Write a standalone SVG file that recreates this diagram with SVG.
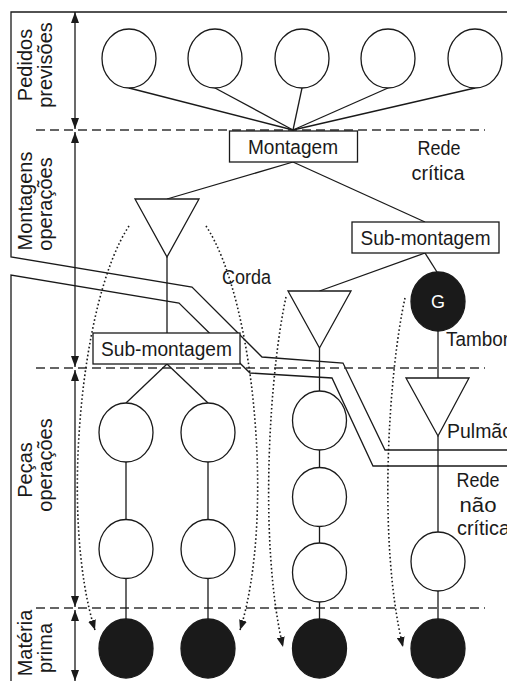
<svg xmlns="http://www.w3.org/2000/svg" width="507" height="681" viewBox="0 0 507 681">
<style>
.ln{stroke:#1a1a1a;stroke-width:1.3;fill:none}
.nd{fill:#fff;stroke:#1a1a1a;stroke-width:1.3}
.bk{fill:#1a1a1a;stroke:#1a1a1a;stroke-width:1.3}
.dash{stroke:#333;stroke-width:1.3;stroke-dasharray:9 5;fill:none}
.dot{stroke:#1a1a1a;stroke-width:1.6;stroke-dasharray:1.6 2.4;fill:none}
.ar{stroke:#1a1a1a;stroke-width:1.3;fill:none;marker-start:url(#ah);marker-end:url(#ah)}
text{font-family:"Liberation Sans",Arial,sans-serif;font-size:20.5px;fill:#1a1a1a}
.v{font-size:20px}
.c{text-anchor:middle}
</style>
<defs>
<marker id="ah" markerUnits="userSpaceOnUse" markerWidth="12" markerHeight="8" refX="11" refY="4" orient="auto-start-reverse" viewBox="0 0 12 8">
<path d="M0,0 L11,4 L0,8 z" fill="#1a1a1a"/>
</marker>
<marker id="dh" markerUnits="userSpaceOnUse" markerWidth="11" markerHeight="8" refX="10" refY="4" orient="auto" viewBox="0 0 11 8">
<path d="M0,0 L10,4 L0,8 z" fill="#1a1a1a"/>
</marker>
</defs>

<g id="regions">
<path class="ln" d="M507,12 H11 V257 L192,287 L262,357 L343,363 L385,450 H507"/>
<path class="ln" d="M11,681 V275 L179,303 L250,373 L332,378 L373,466 H507"/>
<line class="dash" x1="36" y1="130" x2="485" y2="130"/>
<line class="dash" x1="36" y1="368" x2="485" y2="368"/>
<line class="dash" x1="36" y1="608" x2="485" y2="608"/>
<line class="ar" x1="75" y1="12" x2="75" y2="129"/>
<line class="ar" x1="75" y1="132" x2="75" y2="367"/>
<line class="ar" x1="75" y1="370" x2="75" y2="607"/>
<line class="ar" x1="75" y1="610" x2="75" y2="681"/>
</g>

<g id="labels">
<text class="c v" transform="translate(32,65) rotate(-90)">Pedidos</text>
<text class="c v" transform="translate(52,65) rotate(-90)">previsões</text>
<text class="c v" transform="translate(32,201) rotate(-90)">Montagens</text>
<text class="c v" transform="translate(52,204) rotate(-90)">operações</text>
<text class="c v" transform="translate(32,470) rotate(-90)">Peças</text>
<text class="c v" transform="translate(52,465) rotate(-90)">operações</text>
<text class="c v" transform="translate(32,643) rotate(-90)">Matéria</text>
<text class="c v" transform="translate(52,648) rotate(-90)">prima</text>
<text class="c" x="439" y="155" textLength="43" lengthAdjust="spacingAndGlyphs">Rede</text>
<text class="c" x="438" y="180" textLength="53" lengthAdjust="spacingAndGlyphs">crítica</text>
<text x="222" y="284" textLength="49" lengthAdjust="spacingAndGlyphs">Corda</text>
<text x="446" y="346" textLength="63" lengthAdjust="spacingAndGlyphs">Tambor</text>
<text x="447" y="438" textLength="66" lengthAdjust="spacingAndGlyphs">Pulmão</text>
<text class="c" x="478" y="487" textLength="43" lengthAdjust="spacingAndGlyphs">Rede</text>
<text class="c" x="478" y="512" textLength="37" lengthAdjust="spacingAndGlyphs">não</text>
<text x="457" y="535" textLength="53" lengthAdjust="spacingAndGlyphs">crítica</text>
</g>

<g id="connectors">
<line class="ln" x1="129" y1="88" x2="293" y2="130"/>
<line class="ln" x1="215" y1="88" x2="293" y2="130"/>
<line class="ln" x1="302" y1="88" x2="293" y2="130"/>
<line class="ln" x1="388" y1="88" x2="293" y2="130"/>
<line class="ln" x1="475" y1="88" x2="293" y2="130"/>
<line class="ln" x1="293" y1="162" x2="167" y2="199"/>
<line class="ln" x1="293" y1="162" x2="425" y2="222"/>
<line class="ln" x1="167" y1="257" x2="167" y2="333"/>
<line class="ln" x1="167" y1="364" x2="126" y2="403"/>
<line class="ln" x1="167" y1="364" x2="208" y2="403"/>
<line class="ln" x1="126" y1="462" x2="126" y2="619"/>
<line class="ln" x1="208" y1="462" x2="208" y2="619"/>
<line class="ln" x1="425" y1="253" x2="319.5" y2="291"/>
<line class="ln" x1="425" y1="253" x2="437" y2="272"/>
<line class="ln" x1="319.5" y1="348" x2="319.5" y2="619"/>
<line class="ln" x1="438" y1="331" x2="438" y2="378"/>
<line class="ln" x1="438" y1="436" x2="438" y2="619"/>
<path class="dot" marker-end="url(#dh)" d="M129,226 C80,300 60,520 95,630"/>
<path class="dot" marker-end="url(#dh)" d="M206,226 C255,300 275,520 240,630"/>
<path class="dot" marker-end="url(#dh)" d="M286,297 C270,370 258,540 283,647"/>
<path class="dot" marker-end="url(#dh)" d="M405,298 C389,370 377,540 403,647"/>
</g>

<g id="orders">
<ellipse class="nd" cx="129" cy="58.5" rx="27" ry="29.5"/>
<ellipse class="nd" cx="215" cy="58.5" rx="27" ry="29.5"/>
<ellipse class="nd" cx="302" cy="58.5" rx="27" ry="29.5"/>
<ellipse class="nd" cx="388" cy="58.5" rx="27" ry="29.5"/>
<ellipse class="nd" cx="475" cy="58.5" rx="27" ry="29.5"/>
</g>

<g id="montagem">
<rect class="nd" x="229.5" y="131" width="128" height="31"/>
<text class="c" x="293" y="153.5" textLength="90" lengthAdjust="spacingAndGlyphs">Montagem</text>
</g>

<g id="submontagem-right">
<rect class="nd" x="352" y="222" width="147" height="31"/>
<text class="c" x="425.5" y="244.5" textLength="130" lengthAdjust="spacingAndGlyphs">Sub-montagem</text>
</g>

<g id="submontagem-left">
<rect class="nd" x="93" y="333" width="147" height="31"/>
<text class="c" x="166.5" y="355.5" textLength="131" lengthAdjust="spacingAndGlyphs">Sub-montagem</text>
</g>

<g id="buffer-left">
<path class="nd" d="M135,199 H199 L167,257 z"/>
</g>
<g id="buffer-middle">
<path class="nd" d="M288,291 H351 L319.5,348 z"/>
</g>
<g id="drum">
<ellipse class="bk" cx="438" cy="301.5" rx="27" ry="29.5"/>
<text class="c" x="438" y="308" style="fill:#fff;font-size:18px">G</text>
</g>
<g id="buffer-right">
<path class="nd" d="M406,378 H469 L438,436 z"/>
</g>

<g id="parts-1">
<ellipse class="nd" cx="126" cy="432.5" rx="27" ry="29.5"/>
<ellipse class="nd" cx="126" cy="549" rx="27" ry="29.5"/>
<ellipse class="bk" cx="126" cy="648.5" rx="27" ry="29.5"/>
</g>
<g id="parts-2">
<ellipse class="nd" cx="208" cy="432.5" rx="27" ry="29.5"/>
<ellipse class="nd" cx="208" cy="549" rx="27" ry="29.5"/>
<ellipse class="bk" cx="208" cy="648.5" rx="27" ry="29.5"/>
</g>
<g id="parts-3">
<ellipse class="nd" cx="319.5" cy="420.5" rx="27" ry="29.5"/>
<ellipse class="nd" cx="319.5" cy="497" rx="27" ry="29.5"/>
<ellipse class="nd" cx="319.5" cy="572.5" rx="27" ry="29.5"/>
<ellipse class="bk" cx="319.5" cy="648.5" rx="27" ry="29.5"/>
</g>
<g id="parts-4">
<ellipse class="nd" cx="438" cy="561.5" rx="27" ry="29.5"/>
<ellipse class="bk" cx="438" cy="648.5" rx="27" ry="29.5"/>
</g>
</svg>
